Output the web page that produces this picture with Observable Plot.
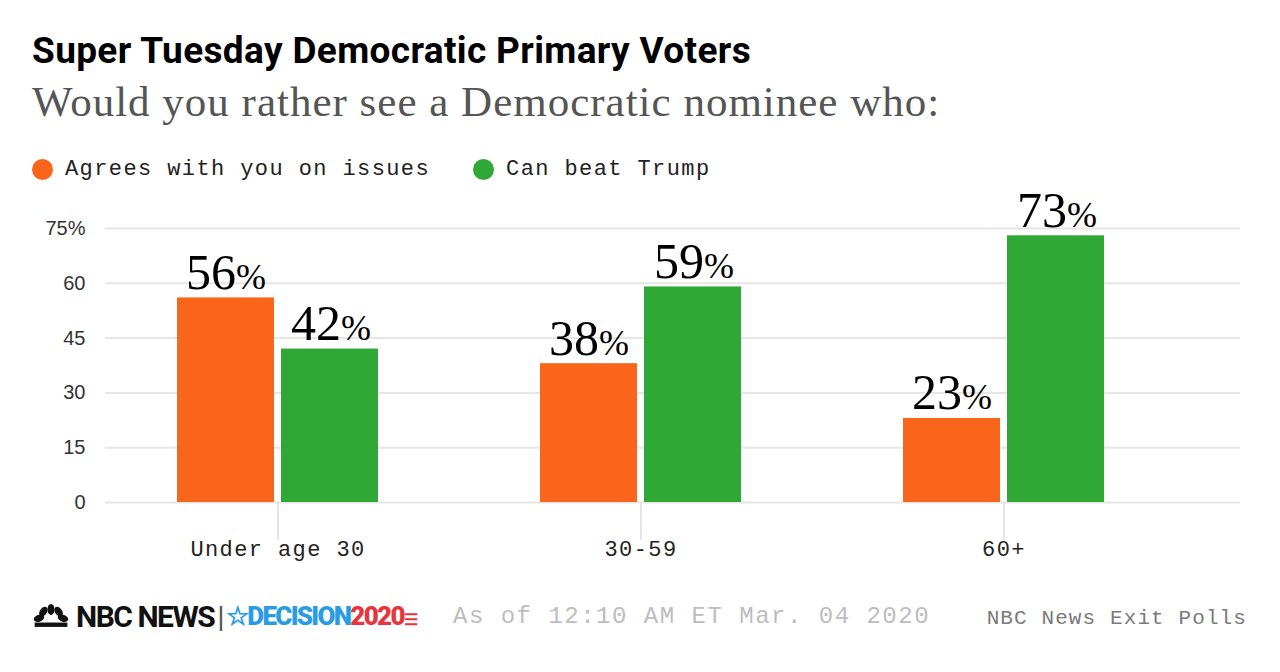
<!DOCTYPE html>
<html>
<head>
<meta charset="utf-8">
<script src="https://cdn.jsdelivr.net/npm/d3@7"></script>
<script src="https://cdn.jsdelivr.net/npm/@observablehq/plot@0.6"></script>
<style>
  html, body { margin: 0; padding: 0; background: #fff; width: 1280px; height: 672px; overflow: hidden; }
  body { position: relative; }
  .title { position: absolute; left: 32px; top: 29px; font-family: "Roboto", "Liberation Sans", sans-serif; font-weight: 700; font-size: 37px; line-height: 44px; letter-spacing: 0.35px; color: #000; white-space: nowrap; }
  .subtitle { position: absolute; left: 32px; top: 78px; font-family: "Liberation Serif", "DejaVu Serif", serif; font-size: 43px; line-height: 48px; letter-spacing: 1px; color: #555; white-space: nowrap; }
  .legend { position: absolute; left: 32px; top: 157px; font-family: "Liberation Mono", "DejaVu Sans Mono", monospace; font-size: 22px; letter-spacing: 1.4px; color: #222; white-space: nowrap; display: flex; align-items: center; }
  .legend .sw { display: inline-block; width: 21px; height: 21px; border-radius: 50%; margin-right: 12px; }
  .legend .item { display: inline-flex; align-items: center; margin-right: 43px; }
  #chart { position: absolute; left: 0; top: 190px; }
  .xaxis text { letter-spacing: 1.4px; }
  .footer { position: absolute; left: 32px; top: 598px; height: 36px; display: flex; align-items: center; white-space: nowrap; }
  .nbc { font-family: "Roboto", "Liberation Sans", sans-serif; font-weight: 700; font-size: 30px; letter-spacing: -1.5px; color: #111; display: inline-flex; align-items: center; }
  .bar { color: #555; font-weight: 400; margin: 0 3px; }
  .dec { font-family: "Roboto", "Liberation Sans", sans-serif; font-weight: 900; font-size: 26px; letter-spacing: -1.7px; color: #2b9be3; }
  .yr { color: #e8343c; }
  .asof { position: absolute; left: 453px; top: 603px; font-family: "Liberation Mono", monospace; font-size: 24px; letter-spacing: 1.5px; color: #bdbdbd; white-space: nowrap; }
  .src { position: absolute; right: 33px; top: 607px; font-family: "Liberation Mono", monospace; font-size: 21px; letter-spacing: 1.1px; color: #7a7a7a; white-space: nowrap; }
</style>
</head>
<body>
<div class="title">Super Tuesday Democratic Primary Voters</div>
<div class="subtitle">Would you rather see a Democratic nominee who:</div>
<div class="legend" id="legend"></div>
<div id="chart"></div>
<div class="footer">
  <svg width="38" height="24" viewBox="0 0 34 22" style="margin-right:6px">
    <g fill="#111">
      <ellipse cx="6" cy="13" rx="5" ry="3.2" transform="rotate(-20 6 13)"/>
      <ellipse cx="10" cy="7" rx="5" ry="3.2" transform="rotate(-55 10 7)"/>
      <ellipse cx="17" cy="5" rx="3.2" ry="5"/>
      <ellipse cx="24" cy="7" rx="5" ry="3.2" transform="rotate(55 24 7)"/>
      <ellipse cx="28" cy="13" rx="5" ry="3.2" transform="rotate(20 28 13)"/>
      <rect x="2" y="17" width="30" height="4"/>
    </g>
  </svg>
  <span class="nbc">NBC NEWS<span class="bar">|</span></span>
  <span class="dec">☆DECISION<span class="yr">2020</span><span class="yr" style="font-size:16px;letter-spacing:0">☰</span></span>
</div>
<div class="asof">As of 12:10 AM ET Mar. 04 2020</div>
<div class="src">NBC News Exit Polls</div>
<script>
const groups = ["Under age 30", "30-59", "60+"];
const seriesNames = ["Agrees with you on issues", "Can beat Trump"];
const seriesColors = ["#f9661b", "#2fa836"];
const agrees = [56, 38, 23];
const beatTrump = [42, 59, 73];
const yTicks = [0, 15, 30, 45, 60, 75];

// legend
const legend = document.getElementById("legend");
seriesNames.forEach((name, i) => {
  const item = document.createElement("span");
  item.className = "item";
  const sw = document.createElement("span");
  sw.className = "sw";
  sw.style.background = seriesColors[i];
  item.appendChild(sw);
  item.appendChild(document.createTextNode(name));
  legend.appendChild(item);
});

const rowsA = groups.map((g, i) => ({group: g, value: agrees[i]}));
const rowsB = groups.map((g, i) => ({group: g, value: beatTrump[i]}));

const numFont = {fontFamily: "Liberation Serif, DejaVu Serif, serif", fontSize: 50, fill: "#000"};
const pctFont = {fontFamily: "Liberation Serif, DejaVu Serif, serif", fontSize: 36, fill: "#000"};
const split = 11;
const lift = -9;

const chart = Plot.plot({
  width: 1280,
  height: 372,
  marginLeft: 105,
  marginRight: 40,
  marginTop: 38,
  marginBottom: 60,
  style: {background: "transparent", overflow: "visible"},
  x: {domain: groups, paddingInner: 0.445, paddingOuter: 0.282, align: 0.345, label: null},
  y: {domain: [0, 75], label: null},
  marks: [
    Plot.gridY(yTicks, {stroke: "#e6e6e6", strokeOpacity: 1, strokeWidth: 2}),
    Plot.axisY({
      ticks: yTicks, tickSize: 0, tickPadding: 20, label: null,
      tickFormat: d => d === 75 ? "75%" : String(d),
      fontFamily: "Liberation Sans, Arial, sans-serif", fontSize: 20, fill: "#333"
    }),
    Plot.axisX({
      tickSize: 38, tickPadding: 0, label: null, stroke: "#dcdcdc", strokeWidth: 1.5,
      fontFamily: "Liberation Mono, DejaVu Sans Mono, monospace", fontSize: 22, fill: "#222",
      className: "xaxis"
    }),
    Plot.barY(rowsA, {x: "group", y: "value", fill: seriesColors[0], insetRight: 104}),
    Plot.barY(rowsB, {x: "group", y: "value", fill: seriesColors[1], insetLeft: 104}),
    Plot.text(rowsA, {x: "group", y: "value", text: d => String(d.value), textAnchor: "end", lineAnchor: "bottom", dx: -53 + split, dy: lift, ...numFont}),
    Plot.text(rowsA, {x: "group", y: "value", text: () => "%", textAnchor: "start", lineAnchor: "bottom", dx: -53 + split, dy: lift, ...pctFont}),
    Plot.text(rowsB, {x: "group", y: "value", text: d => String(d.value), textAnchor: "end", lineAnchor: "bottom", dx: 52 + split, dy: lift, ...numFont}),
    Plot.text(rowsB, {x: "group", y: "value", text: () => "%", textAnchor: "start", lineAnchor: "bottom", dx: 52 + split, dy: lift, ...pctFont})
  ]
});
document.getElementById("chart").appendChild(chart);
</script>
</body>
</html>
